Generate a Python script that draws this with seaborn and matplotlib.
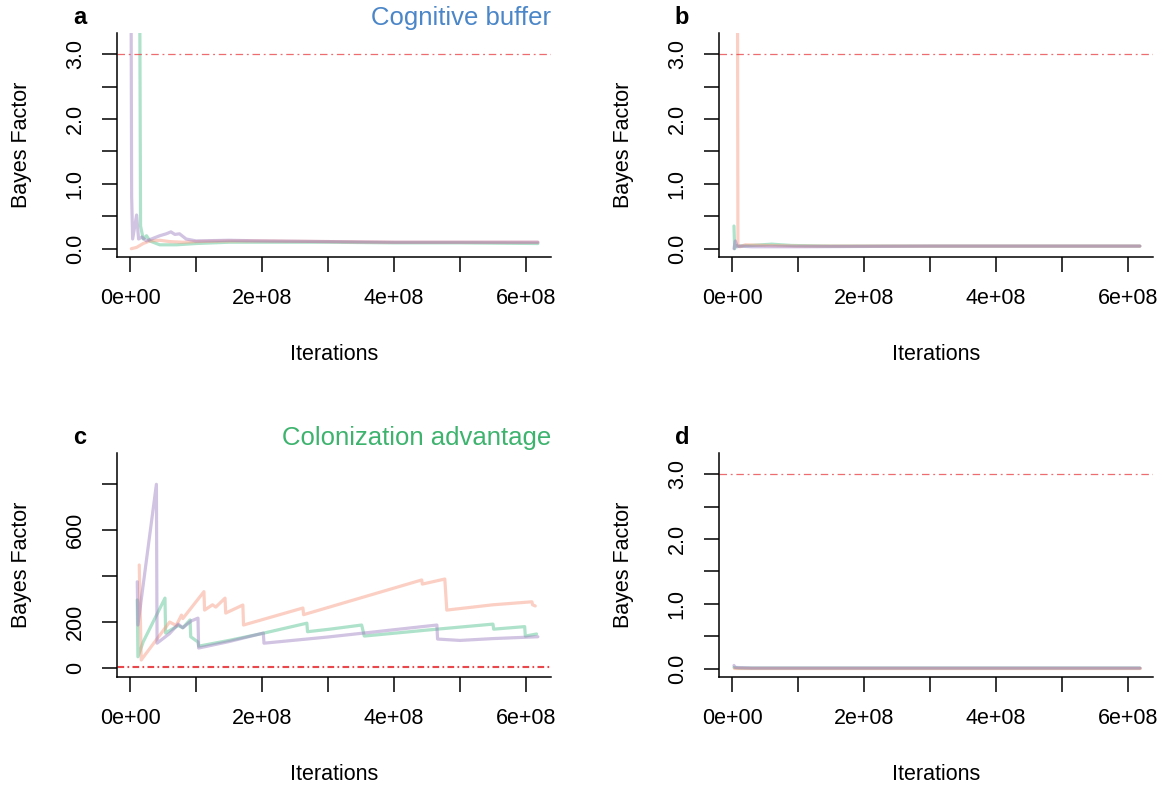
import numpy as np
import pandas as pd
import matplotlib
matplotlib.use("Agg")
import matplotlib.pyplot as plt
import seaborn as sns

# iterations in units of 1e8, Bayes factor values
# panel a - cognitive buffer
a_orange_x = [0.02, 0.10, 0.20, 0.30, 0.45, 0.60, 0.80, 1.0, 1.5, 2.0, 3.0, 4.0, 5.0, 6.18]
a_orange_y = [0.0, 0.02, 0.08, 0.12, 0.13, 0.11, 0.10, 0.11, 0.12, 0.12, 0.11, 0.10, 0.10, 0.10]
a_green_x = [0.14, 0.16, 0.20, 0.25, 0.30, 0.45, 0.70, 1.0, 1.5, 2.0, 3.0, 4.0, 5.0, 6.18]
a_green_y = [6.0, 0.35, 0.15, 0.20, 0.12, 0.06, 0.06, 0.08, 0.10, 0.10, 0.10, 0.09, 0.09, 0.08]
a_purple_x = [0.01, 0.025, 0.04, 0.10, 0.13, 0.18, 0.25, 0.35, 0.45, 0.55, 0.62, 0.68, 0.75, 0.85, 1.0, 1.5, 2.0, 3.0, 4.0, 5.0, 6.18]
a_purple_y = [6.0, 0.8, 0.15, 0.52, 0.15, 0.18, 0.12, 0.16, 0.20, 0.23, 0.26, 0.22, 0.23, 0.15, 0.12, 0.13, 0.12, 0.11, 0.10, 0.10, 0.10]

# panel b
b_orange_x = [0.08, 0.09, 0.12, 0.20, 0.50, 1.0, 2.0, 4.0, 6.18]
b_orange_y = [6.0, 0.05, 0.03, 0.06, 0.05, 0.04, 0.04, 0.04, 0.04]
b_green_x = [0.03, 0.04, 0.05, 0.10, 0.30, 0.60, 0.90, 1.5, 3.0, 6.18]
b_green_y = [0.35, 0.0, 0.05, 0.04, 0.05, 0.07, 0.05, 0.04, 0.04, 0.04]
b_purple_x = [0.03, 0.05, 0.08, 0.12, 0.30, 1.0, 3.0, 6.18]
b_purple_y = [0.0, 0.12, 0.03, 0.04, 0.03, 0.03, 0.04, 0.04]

# panel c - colonization advantage
c_orange_x = [0.14, 0.17, 0.60, 0.70, 0.78, 0.80, 1.12, 1.13, 1.25, 1.30, 1.44, 1.45, 1.71, 1.72, 2.62, 2.63, 4.42, 4.43, 4.77, 4.80, 5.5, 6.09, 6.10, 6.14]
c_orange_y = [448, 35, 200, 185, 230, 215, 332, 252, 275, 265, 304, 239, 274, 187, 261, 232, 383, 365, 387, 252, 275, 288, 275, 270]
c_green_x = [0.11, 0.12, 0.20, 0.53, 0.54, 0.73, 0.80, 0.91, 0.92, 1.03, 1.04, 1.5, 2.0, 2.68, 2.69, 3.03, 3.51, 3.55, 4.5, 5.5, 5.51, 5.98, 5.99, 6.16]
c_green_y = [296, 49, 114, 304, 152, 185, 175, 209, 136, 113, 95, 120, 150, 195, 158, 169, 187, 139, 165, 191, 169, 180, 139, 148]
c_purple_x = [0.11, 0.12, 0.40, 0.41, 0.60, 0.73, 0.80, 0.93, 1.03, 1.04, 1.5, 2.02, 2.03, 3.0, 4.65, 4.66, 5.0, 5.5, 6.18]
c_purple_y = [375, 187, 799, 108, 150, 191, 175, 205, 217, 87, 115, 152, 108, 135, 187, 126, 120, 128, 136]

# panel d
d_orange_x = [0.03, 0.10, 1.0, 3.0, 6.18]
d_orange_y = [0.01, 0.01, 0.01, 0.01, 0.01]
d_green_x = [0.03, 0.10, 1.0, 3.0, 6.18]
d_green_y = [0.02, 0.01, 0.01, 0.01, 0.01]
d_purple_x = [0.03, 0.05, 0.30, 1.0, 3.0, 6.18]
d_purple_y = [0.05, 0.02, 0.01, 0.01, 0.01, 0.01]

series_colors = {"orange": "#F8967A", "green": "#4DBF8A", "purple": "#9B7BC0"}
ref_color = "#E8474C"

# drawing order: green, orange, purple on top
panels = {
    "a": [(a_green_x, a_green_y, "green"), (a_orange_x, a_orange_y, "orange"), (a_purple_x, a_purple_y, "purple")],
    "b": [(b_green_x, b_green_y, "green"), (b_orange_x, b_orange_y, "orange"), (b_purple_x, b_purple_y, "purple")],
    "c": [(c_green_x, c_green_y, "green"), (c_orange_x, c_orange_y, "orange"), (c_purple_x, c_purple_y, "purple")],
    "d": [(d_green_x, d_green_y, "green"), (d_orange_x, d_orange_y, "orange"), (d_purple_x, d_purple_y, "purple")],
}
titles = {"a": ("Cognitive buffer", "#4A86C8"), "c": ("Colonization advantage", "#3DB36E")}

sns.set_theme(style="ticks")
plt.rcParams["font.family"] = ["Liberation Sans", "DejaVu Sans"]
plt.rcParams["text.color"] = "black"
plt.rcParams["axes.labelcolor"] = "black"

W, H = 1165, 788
fig = plt.figure(figsize=(W / 100, H / 100), dpi=100)

# axes boxes in pixels: left, top, right, bottom
boxes = {"a": (117, 33, 551, 257), "b": (719, 33, 1153, 257),
         "c": (117, 453, 551, 677), "d": (719, 453, 1153, 677)}

for key, (l, t, r, b) in boxes.items():
    ax = fig.add_axes([l / W, 1 - b / H, (r - l) / W, (b - t) / H])
    for xs, ys, name in panels[key]:
        sns.lineplot(x=np.array(xs) * 1e8, y=ys, sort=False, estimator=None,
                     color=series_colors[name], alpha=0.45, lw=2.3, ax=ax)

    ax.set_xlim(-0.197e8, 6.379e8)
    ax.set_xticks(np.arange(0, 7) * 1e8)
    ax.set_xticklabels(["0e+00", "", "2e+08", "", "4e+08", "", "6e+08"])

    if key == "c":
        ax.set_ylim(-39, 935)
        ax.set_yticks([0, 200, 400, 600, 800])
        ax.set_yticklabels(["0", "200", "", "600", ""])
        for v in [3, 10]:
            ax.axhline(v, color=ref_color, lw=0.8, dashes=(6, 3, 1.5, 3))
    else:
        ax.set_ylim(-0.128, 3.328)
        ax.set_yticks(np.arange(0, 3.01, 0.5))
        ax.set_yticklabels(["0.0", "", "1.0", "", "2.0", "", "3.0"])
        ax.axhline(3.0, color=ref_color, lw=0.9, alpha=0.8, dashes=(6, 3, 1.5, 3))

    for lab in ax.get_yticklabels():
        lab.set_rotation(90)
        lab.set_va("center")

    ax.tick_params(axis="both", direction="out", length=10.5, width=1.1, labelsize=15.5,
                   color="black", labelcolor="black")
    ax.tick_params(axis="x", pad=12)
    ax.tick_params(axis="y", pad=12)
    for s in ["top", "right"]:
        ax.spines[s].set_visible(False)
    for s in ["left", "bottom"]:
        ax.spines[s].set_color("black")
        ax.spines[s].set_linewidth(1.1)
    ax.grid(False)

    ax.set_xlabel("Iterations", fontsize=15.5, color="black")
    ax.set_ylabel("Bayes Factor", fontsize=15.5, color="black")
    ax.xaxis.set_label_coords(0.5, -0.39)
    ax.yaxis.set_label_coords(-0.195, 0.5)

    fig.text((l - 37) / W, 1 - (t - 15) / H, key, fontsize=17, fontweight="bold",
             color="black", ha="center", va="center")
    if key in titles:
        txt, col = titles[key]
        fig.text(r / W, 1 - (t - 15) / H, txt, fontsize=18.5, color=col,
                 ha="right", va="center")

fig.savefig("out.png", dpi=100)
